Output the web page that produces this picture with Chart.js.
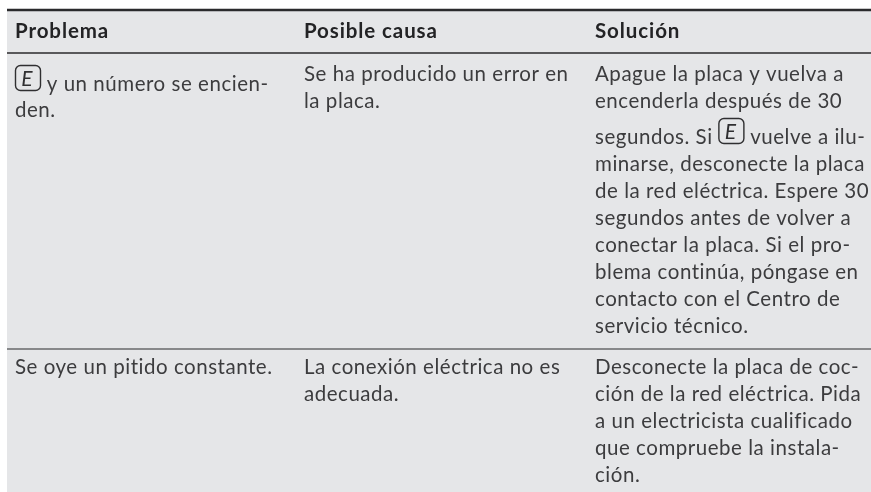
<!DOCTYPE html>
<html lang="es">
<head>
<meta charset="utf-8">
<title>Problema, posible causa y solución</title>
<script src="https://cdn.jsdelivr.net/npm/chart.js@4"></script>
<style>
    html, body { margin: 0; padding: 0; background: #fff; }
    canvas { display: block; }
</style>
</head>
<body>
<canvas id="tableChart" width="871" height="492"></canvas>
<script>
// Table content
const headers = ["Problema", "Posible causa", "Solución"];
const row1Problem = ["[E] y un número se encien-", "den."];
const row1Cause = ["Se ha producido un error en", "la placa."];
const row1Solution = [
    "Apague la placa y vuelva a",
    "encenderla después de 30",
    "segundos. Si [E] vuelve a ilu-",
    "minarse, desconecte la placa",
    "de la red eléctrica. Espere 30",
    "segundos antes de volver a",
    "conectar la placa. Si el pro-",
    "blema continúa, póngase en",
    "contacto con el Centro de",
    "servicio técnico."
];
const row2Problem = ["Se oye un pitido constante."];
const row2Cause = ["La conexión eléctrica no es", "adecuada."];
const row2Solution = [
    "Desconecte la placa de coc-",
    "ción de la red eléctrica. Pida",
    "a un electricista cualificado",
    "que compruebe la instala-",
    "ción."
];

// Layout, in axis units (the axes run over the whole canvas)
const columnX = [15, 304, 595];
const bandLeft = 7;
const bandTop = 10;
const headerBaseline = 38;
const rules = [
    { y: 10, width: 2.6 },
    { y: 53, width: 1.5 },
    { y: 349, width: 1.2 }
];
const bodyCells = [
    { lines: row1Problem, col: 0, y: [91, 117] },
    { lines: row1Cause, col: 1, y: [81, 108] },
    { lines: row1Solution, col: 2, y: [81, 108, 144, 171, 198, 225, 252, 279, 306, 333] },
    { lines: row2Problem, col: 0, y: [374] },
    { lines: row2Cause, col: 1, y: [374, 401] },
    { lines: row2Solution, col: 2, y: [374, 401, 428, 455, 482] }
];

const bodyFont = '20.5px Lato, "Open Sans", sans-serif';
const headFont = 'bold 20.5px Lato, "Open Sans", sans-serif';
const textColor = "#3c3c3e";
const iconSize = 26;

function drawIcon(ctx, x, baseline) {
    ctx.save();
    ctx.letterSpacing = "0px";
    ctx.strokeStyle = "#2f2f31";
    ctx.lineWidth = 1.4;
    ctx.beginPath();
    ctx.roundRect(x + 0.5, baseline - 25.5, iconSize - 1, iconSize - 1, 5);
    ctx.stroke();
    ctx.font = 'italic 21px Lato, sans-serif';
    ctx.textAlign = "center";
    ctx.fillStyle = "#2f2f31";
    ctx.fillText("E", x + iconSize / 2 - 1, baseline - 5);
    ctx.restore();
}

function drawLine(ctx, text, x, baseline) {
    const parts = text.split("[E]");
    parts.forEach((part, i) => {
        if (i > 0) {
            drawIcon(ctx, x, baseline);
            x += iconSize;
        }
        if (part) {
            ctx.fillText(part, x, baseline);
            x += ctx.measureText(part).width;
        }
    });
}

// Gray band behind the table
const bandPlugin = {
    id: "band",
    beforeDatasetsDraw(chart) {
        const { ctx, scales } = chart;
        const left = scales.x.getPixelForValue(bandLeft);
        const top = scales.y.getPixelForValue(bandTop);
        ctx.save();
        ctx.fillStyle = "#e5e6e8";
        ctx.fillRect(left, top, scales.x.right - left, scales.y.bottom - top);
        ctx.restore();
    }
};

// Cell texts
const textPlugin = {
    id: "cellText",
    afterDatasetsDraw(chart) {
        const { ctx, scales } = chart;
        ctx.save();
        ctx.textAlign = "left";
        ctx.textBaseline = "alphabetic";

        ctx.letterSpacing = "0.9px";
        ctx.font = headFont;
        ctx.fillStyle = "#232325";
        headers.forEach((h, i) => {
            ctx.fillText(h, scales.x.getPixelForValue(columnX[i]), scales.y.getPixelForValue(headerBaseline));
        });

        ctx.letterSpacing = "0.53px";
        ctx.font = bodyFont;
        ctx.fillStyle = textColor;
        bodyCells.forEach(cell => {
            cell.lines.forEach((line, i) => {
                drawLine(ctx, line, scales.x.getPixelForValue(columnX[cell.col]), scales.y.getPixelForValue(cell.y[i]));
            });
        });
        ctx.restore();
    }
};

new Chart(document.getElementById("tableChart").getContext("2d"), {
    type: "scatter",
    data: {
        datasets: rules.map(r => ({
            data: [{ x: bandLeft, y: r.y }, { x: 871, y: r.y }],
            showLine: true,
            borderColor: "#2a2a2c",
            borderWidth: r.width,
            pointRadius: 0
        }))
    },
    options: {
        responsive: false,
        animation: false,
        layout: { padding: 0 },
        plugins: { legend: { display: false }, tooltip: { enabled: false } },
        scales: {
            x: { type: "linear", min: 0, max: 871, display: false },
            y: { type: "linear", min: 0, max: 492, reverse: true, display: false }
        }
    },
    plugins: [bandPlugin, textPlugin]
});
</script>
</body>
</html>
